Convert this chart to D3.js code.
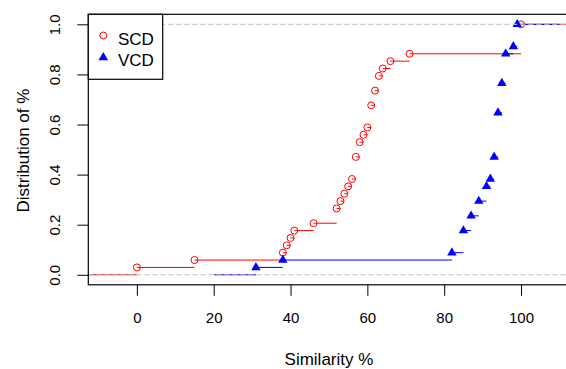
<!DOCTYPE html>
<html>
<head>
<meta charset="utf-8">
<script src="https://cdn.jsdelivr.net/npm/d3@7"></script>
<style>
  html, body { margin: 0; padding: 0; background: #fff; }
  svg { display: block; font-family: "Liberation Sans", Arial, sans-serif; }
</style>
</head>
<body>
<div id="chart"></div>
<script>
// raw similarity values per method
var scdValues = [0, 15, 38, 39, 40, 41, 46, 52, 52, 53, 54, 55, 56, 57, 57, 57,
  58, 58, 59, 60, 61, 61, 61, 62, 62, 63, 63, 64, 66, 71, 100, 100, 100, 100];
var vcdValues = [31, 38, 82, 85, 85, 85, 87, 87, 89, 89, 91, 91, 92, 93, 93, 93,
  94, 94, 94, 94, 94, 94, 95, 95, 95, 95, 96, 96, 96, 96, 98, 99, 99, 99];

// where each step curve starts / ends (x units)
var scdRange = [-16, 116];
var vcdRange = [20.1, 109.9];

var xTicks = [0, 20, 40, 60, 80, 100];
var yTicks = [0, 0.2, 0.4, 0.6, 0.8, 1.0];
var seriesNames = ["SCD", "VCD"];

var width = 566, height = 369;
var box = {left: 88.3, right: 569.6, top: 14.3, bottom: 284.8};

var x = d3.scaleLinear().domain([-12.64, 112.64]).range([box.left, box.right]);
var y = d3.scaleLinear().domain([-0.04, 1.04]).range([box.bottom, box.top]);

var svg = d3.select("#chart").append("svg")
  .attr("width", width).attr("height", height);

svg.append("defs").append("clipPath").attr("id", "plotclip")
  .append("rect")
  .attr("x", box.left).attr("y", box.top)
  .attr("width", box.right - box.left).attr("height", box.bottom - box.top);

// turn raw values into ecdf knots
function ecdf(values) {
  var n = values.length;
  var counts = d3.rollups(values, function(v) { return v.length; }, function(d) { return d; })
    .sort(function(a, b) { return a[0] - b[0]; });
  var cum = 0;
  return counts.map(function(c) {
    cum += c[1];
    return {x: c[0], f: cum / n};
  });
}

function triangle(cx, cy, R) {
  // same proportions as R's pch 17
  var top = 1.5551 * R, half = 1.3468 * R, bot = 0.7776 * R;
  return "M" + cx + "," + (cy - top) + "L" + (cx + half) + "," + (cy + bot) +
    "L" + (cx - half) + "," + (cy + bot) + "Z";
}

var plot = svg.append("g").attr("clip-path", "url(#plotclip)");

function drawSteps(values, range, color, shape) {
  var knots = ecdf(values);
  var segs = [{x1: range[0], x2: knots[0].x, f: 0}];
  knots.forEach(function(k, i) {
    var next = i < knots.length - 1 ? knots[i + 1].x : range[1];
    segs.push({x1: k.x, x2: next, f: k.f});
  });
  plot.append("g").selectAll("line").data(segs).enter().append("line")
    .attr("x1", function(d) { return x(d.x1); })
    .attr("x2", function(d) { return x(d.x2); })
    .attr("y1", function(d) { return y(d.f); })
    .attr("y2", function(d) { return y(d.f); })
    .attr("stroke", color).attr("stroke-width", 1);
  if (shape == "circle") {
    plot.append("g").selectAll("circle").data(knots).enter().append("circle")
      .attr("cx", function(d) { return x(d.x); })
      .attr("cy", function(d) { return y(d.f); })
      .attr("r", 3.5).attr("fill", "none").attr("stroke", color).attr("stroke-width", 1);
  } else {
    plot.append("g").selectAll("path").data(knots).enter().append("path")
      .attr("d", function(d) { return triangle(x(d.x), y(d.f), 3.5); })
      .attr("fill", color);
  }
}

drawSteps(scdValues, scdRange, "#FF0000", "circle");
drawSteps(vcdValues, vcdRange, "#0000FF", "triangle");

// reference lines at 0 and 1
plot.append("g").selectAll("line").data([0, 1]).enter().append("line")
  .attr("x1", box.left).attr("x2", box.right)
  .attr("y1", function(d) { return y(d); })
  .attr("y2", function(d) { return y(d); })
  .attr("stroke", "#BEBEBE").attr("stroke-width", 1)
  .attr("stroke-dasharray", "5,3");

// axes
var xAxis = d3.axisBottom(x).tickValues(xTicks).tickSize(11).tickPadding(17)
  .tickFormat(d3.format("d"));
var gx = svg.append("g").attr("transform", "translate(0," + box.bottom + ")").call(xAxis);
gx.select(".domain").remove();
gx.selectAll("text").attr("font-size", "15px").attr("fill", "#000")
  .attr("font-family", "Liberation Sans, Arial, sans-serif");
gx.selectAll("line").attr("stroke", "#000");

var yAxis = d3.axisLeft(y).tickValues(yTicks).tickSize(11).tickFormat(d3.format(".1f"));
var gy = svg.append("g").attr("transform", "translate(" + box.left + ",0)").call(yAxis);
gy.select(".domain").remove();
gy.selectAll("line").attr("stroke", "#000");
gy.selectAll("text")
  .attr("font-size", "15px").attr("fill", "#000")
  .attr("font-family", "Liberation Sans, Arial, sans-serif")
  .attr("text-anchor", "middle").attr("dy", null)
  .attr("x", null)
  .attr("transform", "translate(-28,0) rotate(-90)");

// frame
svg.append("rect")
  .attr("x", box.left).attr("y", box.top)
  .attr("width", box.right - box.left).attr("height", box.bottom - box.top)
  .attr("fill", "none").attr("stroke", "#000").attr("stroke-width", 1.2);

// axis titles
svg.append("text").text("Similarity %")
  .attr("x", (box.left + box.right) / 2).attr("y", 365)
  .attr("text-anchor", "middle").attr("font-size", "17px");
svg.append("text").text("Distribution of %")
  .attr("text-anchor", "middle").attr("font-size", "17px")
  .attr("transform", "translate(29," + ((box.top + box.bottom) / 2 + 1) + ") rotate(-90)");

// legend
var lg = svg.append("g");
lg.append("rect").attr("x", box.left).attr("y", box.top)
  .attr("width", 74.4).attr("height", 65)
  .attr("fill", "#fff").attr("stroke", "#000").attr("stroke-width", 1.2);
lg.append("circle").attr("cx", 103.3).attr("cy", 35.5).attr("r", 3.5)
  .attr("fill", "none").attr("stroke", "#FF0000");
lg.append("path").attr("d", triangle(103.3, 57.5, 3.6)).attr("fill", "#0000FF");
lg.selectAll("text").data(seriesNames).enter().append("text")
  .text(function(d) { return d; })
  .attr("x", 118)
  .attr("y", function(d, i) { return 45 + i * 21.3; })
  .attr("font-size", "17px");
</script>
</body>
</html>
